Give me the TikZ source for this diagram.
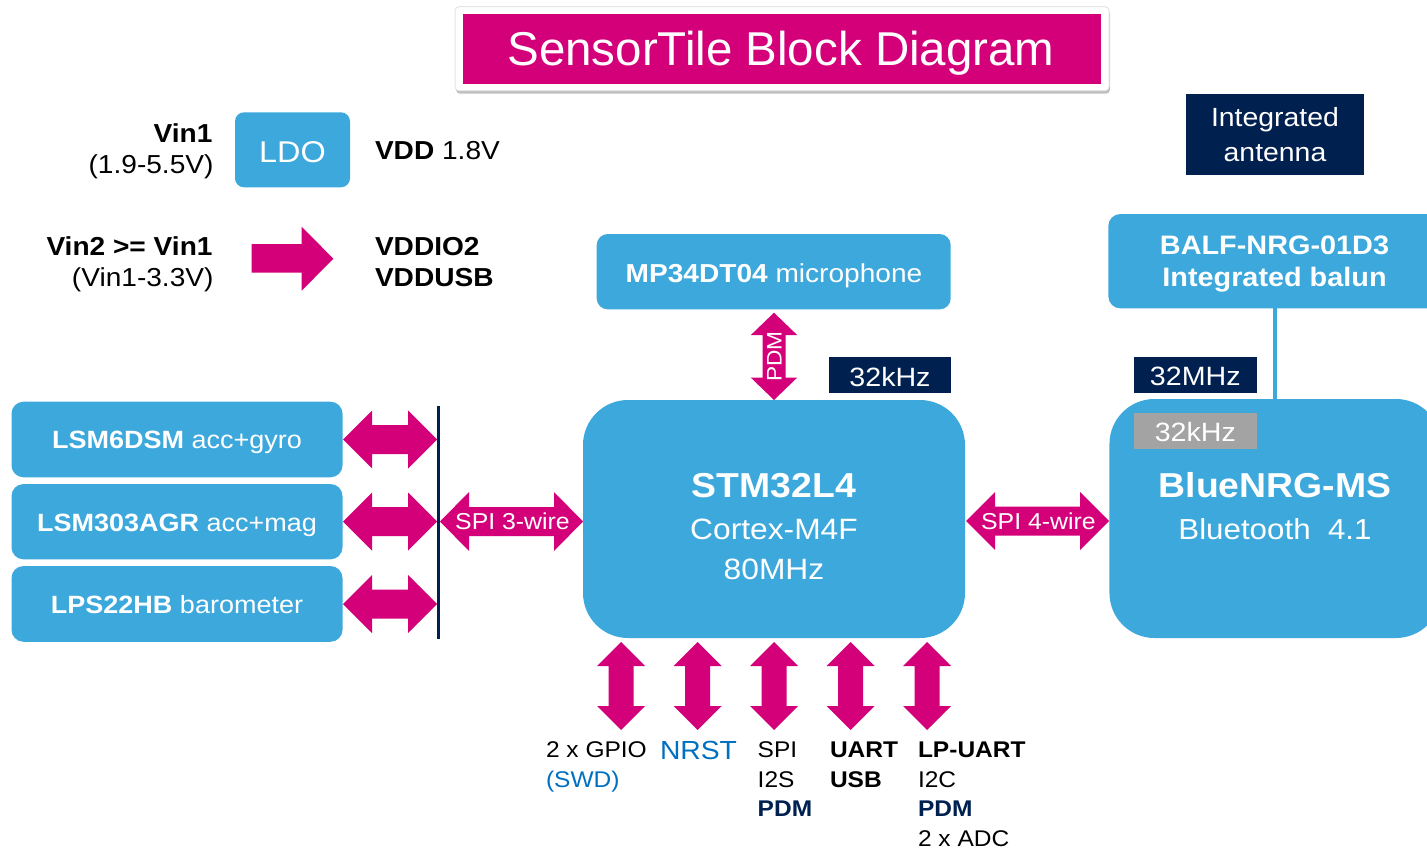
\documentclass[tikz,border=0pt]{standalone}
\usepackage{fontspec}
\setmainfont{Liberation Sans}[FakeStretch=1.08]
\newfontfamily\titlefont{Liberation Sans}
\usetikzlibrary{shadows}
\definecolor{stblue}{RGB}{60,168,220}
\definecolor{stpink}{RGB}{212,0,122}
\definecolor{stnavy}{RGB}{0,32,80}
\definecolor{stgray}{RGB}{163,163,163}
\definecolor{sttext}{RGB}{0,112,192}
% horizontal double block arrow: xl, xr, yc, head length, half head, half shaft
\newcommand{\HArrow}[6]{%
 \fill[stpink] (#1,#3) -- ({#1+#4},{#3-#5}) -- ({#1+#4},{#3-#6}) -- ({#2-#4},{#3-#6}) -- ({#2-#4},{#3-#5}) -- (#2,#3) -- ({#2-#4},{#3+#5}) -- ({#2-#4},{#3+#6}) -- ({#1+#4},{#3+#6}) -- ({#1+#4},{#3+#5}) -- cycle;}
% vertical double block arrow: xc, ytop, ybottom, head length, half head, half shaft
\newcommand{\VArrow}[6]{%
 \fill[stpink] (#1,#2) -- ({#1+#5},{#2+#4}) -- ({#1+#6},{#2+#4}) -- ({#1+#6},{#3-#4}) -- ({#1+#5},{#3-#4}) -- (#1,#3) -- ({#1-#5},{#3-#4}) -- ({#1-#6},{#3-#4}) -- ({#1-#6},{#2+#4}) -- ({#1-#5},{#2+#4}) -- cycle;}
\begin{document}
\begin{tikzpicture}[x=1pt,y=-1pt,
  bbox/.style={rectangle, fill=stblue, draw=none, inner sep=0pt, outer sep=0pt, rounded corners=#1},
  bbox/.default=10pt,
  tag/.style={rectangle, fill=stnavy, draw=none, inner sep=0pt, outer sep=0pt},
  fs/.style={font=\fontsize{#1}{#1}\selectfont},
  wt/.style={text=white, inner sep=0pt, outer sep=0pt, anchor=base},
  bt/.style={text=black, inner sep=0pt, outer sep=0pt},
]
\useasboundingbox (0,0) rectangle (1427,848);
\fill[white] (0,0) rectangle (1427,848);
\clip (0,0) rectangle (1427,848);

% ---------- title ----------
\node[rectangle, fill=white, draw=black!10, line width=1pt, rounded corners=4pt, minimum width=654pt, minimum height=84pt, inner sep=0pt,
      drop shadow={shadow xshift=1pt, shadow yshift=-3pt, opacity=0.25, fill=black}] (titleframe) at (782,48.7) {};
\node[rectangle, fill=stpink, minimum width=638pt, minimum height=70pt, inner sep=0pt] (titlebox) at (782,49.2) {};
\node[wt, font=\titlefont\fontsize{47.5}{47.5}\selectfont] (title) at (781,65.5) {SensorTile Block Diagram};

% ---------- power section ----------
\node[bbox=9pt, minimum width=115pt, minimum height=75pt] (ldo) at (292.5,149.8) {};
\node[wt, fs=30] (ldot) at (292.5,162.3) {LDO};
\node[bt, anchor=base east, fs=26] (vin1) at (212.5,142.3) {\bfseries Vin1};
\node[bt, anchor=base east, fs=26] (vin1r) at (213.5,174) {(1.9-5.5V)};
\node[bt, anchor=base west, fs=26] (vdd) at (375,160) {\textbf{VDD} 1.8V};
\node[bt, anchor=base east, fs=26] (vin2) at (212.5,255.3) {\bfseries Vin2 >= Vin1};
\node[bt, anchor=base east, fs=26] (vin2r) at (213.5,286.7) {(Vin1-3.3V)};
\node[bt, anchor=base west, fs=26] (vddio) at (375,255) {\bfseries VDDIO2};
\node[bt, anchor=base west, fs=26] (vddusb) at (375,286.7) {\bfseries VDDUSB};
\fill[stpink] (251.7,244) -- (301.7,244) -- (301.7,226.7) -- (333.3,258.7) -- (301.7,290.7) -- (301.7,272.7) -- (251.7,272.7) -- cycle;

% ---------- microphone ----------
\node[bbox=11pt, minimum width=354pt, minimum height=75.3pt] (mic) at (773.7,271.7) {};
\node[wt, fs=26] (mict) at (774,282.3) {\textbf{MP34DT04} microphone};
\VArrow{774}{312.7}{400}{22.5}{23.3}{11.5}
\node[text=white, inner sep=0pt, rotate=90, fs=21] (pdm) at (774.5,356.7) {PDM};

% ---------- clocks ----------
\node[tag, minimum width=121.7pt, minimum height=36pt] (clk1) at (889.9,375.3) {};
\node[wt, fs=26.5] (clk1t) at (890,386) {32kHz};

% ---------- STM32 ----------
\node[bbox=45pt, minimum width=382pt, minimum height=238pt] (stm) at (774,519) {};
\node[wt, fs=34.6] (stm1) at (774,497.3) {\bfseries STM32L4};
\node[wt, fs=29.4] (stm2) at (774,539.3) {Cortex-M4F};
\node[wt, fs=29.4] (stm3) at (774,579.3) {80MHz};

% ---------- sensors ----------
\node[bbox=12pt, minimum width=331pt, minimum height=75.6pt] (s1) at (177,439.5) {};
\node[bbox=12pt, minimum width=331pt, minimum height=75.3pt] (s2) at (177,521.7) {};
\node[bbox=12pt, minimum width=331pt, minimum height=75.7pt] (s3) at (177,603.9) {};
\node[wt, fs=25] (s1t) at (177,448.8) {\textbf{LSM6DSM} acc+gyro};
\node[wt, fs=25] (s2t) at (177,531) {\textbf{LSM303AGR} acc+mag};
\node[wt, fs=25] (s3t) at (177,613.3) {\textbf{LPS22HB} barometer};
\HArrow{343}{437}{439.5}{29}{29}{14.5}
\HArrow{343}{437}{521.5}{29}{29}{14.5}
\HArrow{343}{437}{604}{29}{29}{14.5}
\coordinate (busT) at (438.5,406);
\coordinate (busB) at (438.5,639);
\draw[stnavy, line width=3pt] (busT) -- (busB);
\HArrow{440}{583}{521.5}{29}{29.5}{14.5}
\node[wt, fs=23] (spi3) at (512.5,529.6) {SPI 3-wire};

% ---------- BlueNRG side ----------
\node[tag, minimum width=178pt, minimum height=81pt] (ant) at (1275,134.5) {};
\node[wt, fs=26.3] (ant1) at (1275,126.7) {Integrated};
\node[wt, fs=26.3] (ant2) at (1275,161.7) {antenna};
\node[bbox=12pt, minimum width=333.7pt, minimum height=94.3pt] (balf) at (1275.2,261.2) {};
\node[wt, fs=26.7] (balf1) at (1274.5,254) {\bfseries BALF-NRG-01D3};
\node[wt, fs=26.7] (balf2) at (1274.5,286.7) {\bfseries Integrated balun};
\node[bbox=45pt, minimum width=331.5pt, minimum height=239pt] (ble) at (1275.2,518.5) {};
\draw[stblue, line width=4pt] (balf.south) -- (ble.north);
\node[wt, fs=34.6] (ble1) at (1275,497.3) {\bfseries BlueNRG-MS};
\node[wt, fs=29] (ble2) at (1275,539.3) {Bluetooth\ \ 4.1};
\node[tag, minimum width=122.7pt, minimum height=36pt] (mhz) at (1195.3,375.3) {};
\node[wt, fs=26.5] (mhzt) at (1195.3,385.7) {32MHz};
\node[rectangle, fill=stgray, inner sep=0pt, minimum width=122.7pt, minimum height=36pt] (khz2) at (1195.3,431.3) {};
\node[wt, fs=26.5] (khz2t) at (1195.3,441.7) {32kHz};
\HArrow{966}{1109}{521}{29}{29}{14.5}
\node[wt, fs=23] (spi4) at (1038.4,529.2) {SPI 4-wire};

% ---------- bottom interfaces ----------
\VArrow{621}{642}{730}{24}{24}{12.5}
\VArrow{697.5}{642}{730}{24}{24}{12.5}
\VArrow{774}{642}{730}{24}{24}{12.5}
\VArrow{850.5}{642}{730}{24}{24}{12.5}
\VArrow{927}{642}{730}{24}{24}{12.5}
\node[bt, anchor=base west, fs=22.7] (g1) at (546,757.7) {2 x GPIO};
\node[bt, anchor=base west, fs=22.7, text=sttext] (g2) at (546,787.3) {(SWD)};
\node[bt, anchor=base west, fs=26.2, text=sttext] (nrst) at (660,759.3) {NRST};
\node[bt, anchor=base west, fs=22.7] (p1) at (757.7,757.7) {SPI};
\node[bt, anchor=base west, fs=22.7] (p2) at (757.7,787.3) {I2S};
\node[bt, anchor=base west, fs=22.7, text=stnavy] (p3) at (757.7,816.5) {\bfseries PDM};
\node[bt, anchor=base west, fs=22.7] (u1) at (830,757.7) {\bfseries UART};
\node[bt, anchor=base west, fs=22.7] (u2) at (830,787.3) {\bfseries USB};
\node[bt, anchor=base west, fs=22.7] (l1) at (918,757.7) {\bfseries LP-UART};
\node[bt, anchor=base west, fs=22.7] (l2) at (918,787.3) {I2C};
\node[bt, anchor=base west, fs=22.7, text=stnavy] (l3) at (918,816.5) {\bfseries PDM};
\node[bt, anchor=base west, fs=22.7] (l4) at (918,846) {2 x ADC};
\end{tikzpicture}
\end{document}
